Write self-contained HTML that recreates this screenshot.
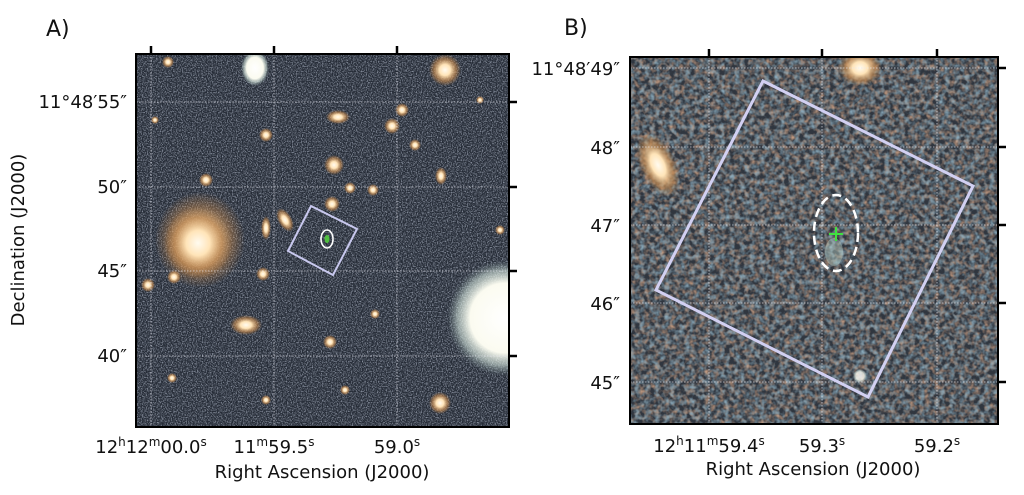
<!DOCTYPE html>
<html><head><meta charset="utf-8"><style>
html,body{margin:0;padding:0;background:#fff;width:1024px;height:495px;overflow:hidden}
text{font-family:"DejaVu Sans","Liberation Sans",sans-serif;fill:#111}
</style></head><body>
<svg width="1024" height="495" viewBox="0 0 1024 495" xmlns="http://www.w3.org/2000/svg">
<defs>
<filter id="nA" x="0" y="0" width="100%" height="100%">
<feTurbulence type="fractalNoise" baseFrequency="0.8" numOctaves="2" seed="3" result="t"/>
<feColorMatrix in="t" type="matrix" values="0 0 0 0 0.45  0 0 0 0 0.5  0 0 0 0 0.6  2 0 0 0 -0.85"/>
</filter>
<filter id="bB" x="0" y="0" width="100%" height="100%">
<feTurbulence type="fractalNoise" baseFrequency="0.2" numOctaves="2" seed="7" result="t"/>
<feColorMatrix in="t" type="matrix" values="0 0 0 0 0.55  0 0 0 0 0.33  0 0 0 0 0.22  2 0 0 0 -0.8"/>
</filter>
<filter id="uB" x="0" y="0" width="100%" height="100%">
<feTurbulence type="fractalNoise" baseFrequency="0.2" numOctaves="2" seed="19" result="t"/>
<feColorMatrix in="t" type="matrix" values="0 0 0 0 0.25  0 0 0 0 0.4  0 0 0 0 0.5  2 0 0 0 -0.8"/>
</filter>
<radialGradient id="g"><stop offset="0" stop-color="#fffbf0"/><stop offset="0.35" stop-color="#ffe4b8"/><stop offset="0.7" stop-color="#d09050" stop-opacity="0.6"/><stop offset="1" stop-color="#c8894a" stop-opacity="0"/></radialGradient>
<radialGradient id="w"><stop offset="0" stop-color="#fff"/><stop offset="0.6" stop-color="#fbfbf0"/><stop offset="0.82" stop-color="#cfe0d8" stop-opacity="0.6"/><stop offset="1" stop-color="#8aa0a0" stop-opacity="0"/></radialGradient>
<clipPath id="cA"><rect x="136" y="54" width="373" height="373"/></clipPath>
<clipPath id="cB"><rect x="630" y="57" width="368" height="367"/></clipPath>
</defs>

<!-- Panel A -->
<text x="46" y="36" font-size="22">A)</text>
<g clip-path="url(#cA)">
<rect x="136" y="54" width="373" height="373" fill="#262c37"/>
<rect x="136" y="54" width="373" height="373" filter="url(#nA)"/>
<ellipse cx="200" cy="240" rx="45" ry="48" fill="url(#g)" opacity="0.7"/>
<ellipse cx="198" cy="243" rx="34" ry="36" fill="url(#g)"/>
<circle cx="505" cy="318" r="58" fill="url(#w)"/>
<ellipse cx="255" cy="68" rx="14" ry="18" fill="url(#w)"/>
<circle cx="445" cy="70" r="16" fill="url(#g)"/>
<circle cx="440" cy="403" r="11" fill="url(#g)"/>
<ellipse cx="246" cy="325" rx="16" ry="10" fill="url(#g)"/>
<circle cx="334" cy="165" r="10" fill="url(#g)"/>
<ellipse cx="338" cy="117" rx="12" ry="7" fill="url(#g)"/>
<circle cx="392" cy="126" r="8" fill="url(#g)"/>
<circle cx="266" cy="135" r="7" fill="url(#g)"/>
<circle cx="332" cy="204" r="8" fill="url(#g)"/>
<ellipse cx="285" cy="220" rx="7" ry="13" fill="url(#g)" transform="rotate(-30 285 220)"/>
<ellipse cx="266" cy="228" rx="5" ry="12" fill="url(#g)"/>
<circle cx="350" cy="188" r="6" fill="url(#g)"/>
<circle cx="373" cy="190" r="6" fill="url(#g)"/>
<circle cx="402" cy="110" r="7" fill="url(#g)"/>
<ellipse cx="441" cy="176" rx="6" ry="9" fill="url(#g)"/>
<circle cx="206" cy="180" r="7" fill="url(#g)"/>
<circle cx="330" cy="342" r="7" fill="url(#g)"/>
<circle cx="148" cy="285" r="7" fill="url(#g)"/>
<circle cx="174" cy="277" r="7" fill="url(#g)"/>
<circle cx="263" cy="274" r="7" fill="url(#g)"/>
<circle cx="375" cy="314" r="5" fill="url(#g)"/>
<circle cx="415" cy="145" r="6" fill="url(#g)"/>
<circle cx="168" cy="62" r="6" fill="url(#g)"/>
<circle cx="172" cy="378" r="5" fill="url(#g)"/>
<circle cx="266" cy="400" r="5" fill="url(#g)"/>
<circle cx="345" cy="390" r="5" fill="url(#g)"/>
<circle cx="480" cy="100" r="4" fill="url(#g)"/>
<circle cx="500" cy="230" r="5" fill="url(#g)"/>
<circle cx="155" cy="120" r="4" fill="url(#g)"/>
<g stroke="#e8e8f0" stroke-width="0.8" stroke-dasharray="1.5,1.5" opacity="0.8">
<line x1="151" y1="54" x2="151" y2="427"/><line x1="274" y1="54" x2="274" y2="427"/><line x1="397" y1="54" x2="397" y2="427"/>
<line x1="136" y1="102" x2="509" y2="102"/><line x1="136" y1="187" x2="509" y2="187"/><line x1="136" y1="271" x2="509" y2="271"/><line x1="136" y1="356" x2="509" y2="356"/>
</g>
<polygon points="311,206 357,229 333,275 288,251" fill="none" stroke="#c8c8ee" stroke-width="2"/>
<ellipse cx="327" cy="239" rx="6" ry="9" fill="none" stroke="#fff" stroke-width="1.6"/>
<ellipse cx="327" cy="239" rx="2.5" ry="4" fill="#50c040"/>
</g>
<rect x="136" y="54" width="373" height="373" fill="none" stroke="#000" stroke-width="2"/>
<g stroke="#000" stroke-width="2.5">
<line x1="151" y1="46" x2="151" y2="54"/><line x1="274" y1="46" x2="274" y2="54"/><line x1="397" y1="46" x2="397" y2="54"/>
<line x1="509" y1="102" x2="517" y2="102"/><line x1="509" y1="187" x2="517" y2="187"/><line x1="509" y1="271" x2="517" y2="271"/><line x1="509" y1="356" x2="517" y2="356"/>
</g>
<g font-size="18" text-anchor="end">
<text x="127" y="108">11°48′55″</text><text x="127" y="193">50″</text><text x="127" y="277">45″</text><text x="127" y="362">40″</text>
</g>
<g font-size="18" text-anchor="middle">
<text x="151" y="453">12<tspan font-size="12" dy="-7">h</tspan><tspan dy="7">12</tspan><tspan font-size="12" dy="-7">m</tspan><tspan dy="7">00.0</tspan><tspan font-size="12" dy="-7">s</tspan></text>
<text x="274" y="453">11<tspan font-size="12" dy="-7">m</tspan><tspan dy="7">59.5</tspan><tspan font-size="12" dy="-7">s</tspan></text>
<text x="397" y="453">59.0<tspan font-size="12" dy="-7">s</tspan></text>
<text x="322" y="478">Right Ascension (J2000)</text>
<text transform="translate(24,240) rotate(-90)">Declination (J2000)</text>
</g>

<!-- Panel B -->
<text x="564" y="35" font-size="22">B)</text>
<g clip-path="url(#cB)">
<rect x="630" y="57" width="368" height="367" fill="#30363f"/>
<rect x="630" y="57" width="368" height="367" filter="url(#bB)"/>
<rect x="630" y="57" width="368" height="367" filter="url(#uB)"/>
<ellipse cx="658" cy="165" rx="18" ry="34" fill="url(#g)" transform="rotate(-25 658 165)"/>
<ellipse cx="860" cy="68" rx="22" ry="18" fill="url(#g)"/>
<circle cx="860" cy="376" r="7" fill="url(#w)" opacity="0.8"/>
<ellipse cx="834" cy="252" rx="9" ry="14" fill="#b8d0c8" opacity="0.45"/>
<g stroke="#e8e8f0" stroke-width="0.8" stroke-dasharray="1.5,1.5" opacity="0.8">
<line x1="709" y1="57" x2="709" y2="424"/><line x1="822" y1="57" x2="822" y2="424"/><line x1="937" y1="57" x2="937" y2="424"/>
<line x1="630" y1="68" x2="998" y2="68"/><line x1="630" y1="147" x2="998" y2="147"/><line x1="630" y1="225" x2="998" y2="225"/><line x1="630" y1="303" x2="998" y2="303"/><line x1="630" y1="382" x2="998" y2="382"/>
</g>
<polygon points="763,81 973,186 868,397 656,290" fill="none" stroke="#d2d0f2" stroke-width="3"/>
<ellipse cx="836" cy="233" rx="22" ry="38" fill="none" stroke="#fff" stroke-width="2.5" stroke-dasharray="9,5"/>
<g stroke="#40e040" stroke-width="2"><line x1="829" y1="234" x2="843" y2="234"/><line x1="836" y1="227" x2="836" y2="241"/></g>
</g>
<rect x="630" y="57" width="368" height="367" fill="none" stroke="#000" stroke-width="2"/>
<g stroke="#000" stroke-width="2.5">
<line x1="709" y1="49" x2="709" y2="57"/><line x1="822" y1="49" x2="822" y2="57"/><line x1="937" y1="49" x2="937" y2="57"/>
<line x1="998" y1="68" x2="1006" y2="68"/><line x1="998" y1="147" x2="1006" y2="147"/><line x1="998" y1="225" x2="1006" y2="225"/><line x1="998" y1="303" x2="1006" y2="303"/><line x1="998" y1="382" x2="1006" y2="382"/>
</g>
<g font-size="18" text-anchor="end">
<text x="620" y="75">11°48′49″</text><text x="620" y="154">48″</text><text x="620" y="232">47″</text><text x="620" y="310">46″</text><text x="620" y="389">45″</text>
</g>
<g font-size="18" text-anchor="middle">
<text x="709" y="452">12<tspan font-size="12" dy="-7">h</tspan><tspan dy="7">11</tspan><tspan font-size="12" dy="-7">m</tspan><tspan dy="7">59.4</tspan><tspan font-size="12" dy="-7">s</tspan></text>
<text x="822" y="452">59.3<tspan font-size="12" dy="-7">s</tspan></text>
<text x="937" y="452">59.2<tspan font-size="12" dy="-7">s</tspan></text>
<text x="813" y="475">Right Ascension (J2000)</text>
</g>
</svg>
</body></html>
